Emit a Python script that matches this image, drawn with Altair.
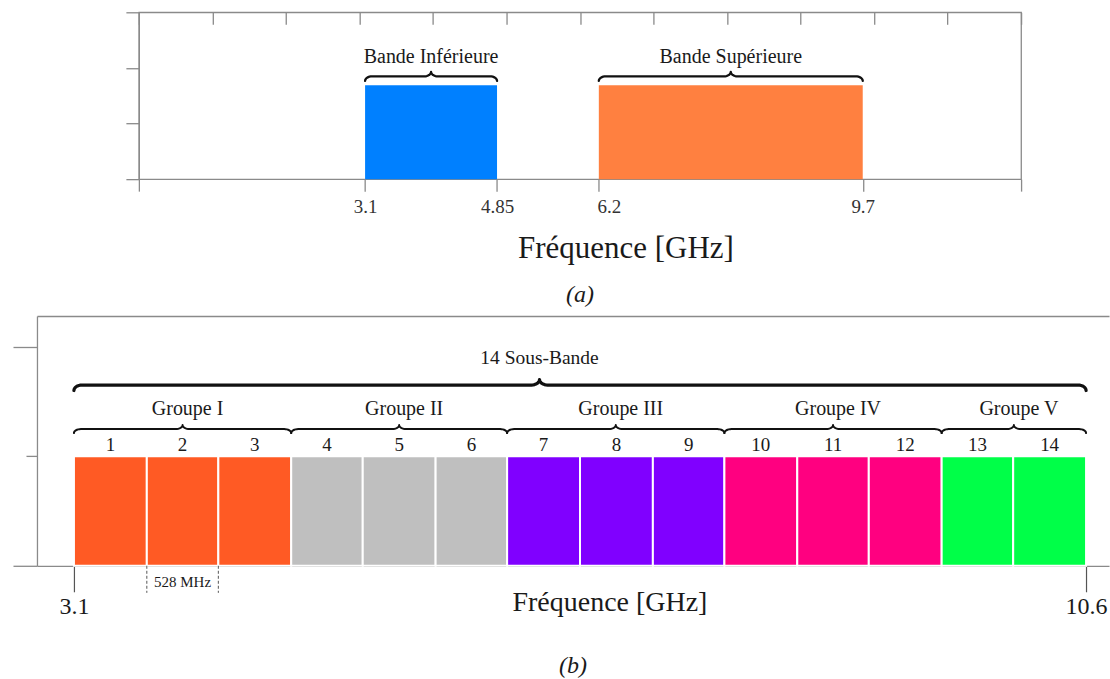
import altair as alt
import numpy as np
import pandas as pd

FONT = "Liberation Serif"
TXT = "#1a1a1a"
LINE = "#8a8a8a"
INK = "#111111"

# ---------------- panel (a) data ----------------
band_names = ["Bande Inférieure", "Bande Supérieure"]
band_start = [3.1, 6.2]
band_end = [4.85, 9.7]
band_colors = ["#0080FF", "#FF8040"]
band_level = 1.69
a_tick_values = [3.1, 4.85, 6.2, 9.7]

# ---------------- panel (b) data ----------------
sub_band_ids = [1, 2, 3, 4, 5, 6, 7, 8, 9, 10, 11, 12, 13, 14]
sub_band_edges = [3.10, 3.64, 4.17, 4.71, 5.24, 5.78, 6.31, 6.85, 7.39, 7.92, 8.46, 8.99, 9.53, 10.06, 10.60]
group_names = ["Groupe I", "Groupe II", "Groupe III", "Groupe IV", "Groupe V"]
group_first = [1, 4, 7, 10, 13]
group_last = [3, 6, 9, 12, 14]
group_colors = ["#FF5A24", "#BFBFBF", "#8000FF", "#FF0080", "#00FF48"]
all_label = "14 Sous-Bande"
all_peak = 6.55
b_tick_values = [3.1, 10.6]
width_label = "528 MHz"
width_band = 2


def brace_rows(bid, x0, x1, xm, y, kx, ky, dx_px, amp_px, n=9):
    dx = dx_px * kx
    a = amp_px * ky
    t = np.linspace(0, np.pi / 2, n)
    pts = []
    pts += list(zip(x0 + dx - dx * np.cos(t), y - a + a * np.sin(t)))
    pts += list(zip(xm - dx + dx * np.sin(t), y + a - a * np.cos(t)))
    pts += list(zip(xm + dx - dx * np.cos(t), y + a - a * np.sin(t)))
    pts += list(zip(x1 - dx + dx * np.sin(t), y - a + a * np.cos(t)))
    return [dict(brace=bid, order=i, x=float(px), y=float(py)) for i, (px, py) in enumerate(pts)]


# ================= panel (a) =================
A_W, A_H = 883, 167
a_dom = [0.1, 11.8]
a_ydom = [0, 3]
kx_a = (a_dom[1] - a_dom[0]) / A_W
ky_a = (a_ydom[1] - a_ydom[0]) / A_H
xa = alt.Scale(domain=a_dom, nice=False, zero=False)
ya = alt.Scale(domain=a_ydom, nice=False, zero=False)

bands_df = pd.DataFrame({
    "name": band_names,
    "start": band_start,
    "end": band_end,
    "mid": [(s + e) / 2 for s, e in zip(band_start, band_end)],
    "lo": [0.0] * len(band_names),
    "hi": [band_level] * len(band_names),
    "ty": [2.089] * len(band_names),
})

a_bars = alt.Chart(bands_df).mark_rect().encode(
    x=alt.X("start:Q", scale=xa, axis=alt.Axis(
        values=[a_dom[0]] + a_tick_values + [a_dom[1]], format=".2~f",
        labelExpr="(datum.value < 1 || datum.value > 11) ? '' : datum.label",
        tickSize=12, tickColor=LINE, tickWidth=1.3, labelPadding=6, labelFontSize=19,
        labelFont=FONT, labelColor="#333333", labelFlush=False, domain=False, grid=False,
        labelOffset={"condition": {"test": "datum.value == 6.2", "value": 10}, "value": 0},
        title="Fréquence [GHz]", titleFont=FONT, titleFontSize=31, titleFontWeight="normal",
        titleColor=TXT, titleX=487, titleY=78, titleBaseline="alphabetic", titleAlign="center")),
    x2="end:Q",
    y=alt.Y("lo:Q", scale=ya, axis=alt.Axis(values=[0, 1, 2, 3], tickSize=13, tickColor=LINE,
                                             tickWidth=1.3, labels=False, domain=True,
                                             domainColor=LINE, domainWidth=1.3, grid=False, title=None)),
    y2="hi:Q",
    color=alt.Color("name:N", scale=alt.Scale(domain=band_names, range=band_colors), legend=None),
)

a_brace_data = []
for i, (s, e) in enumerate(zip(band_start, band_end)):
    a_brace_data += brace_rows(i, s, e, (s + e) / 2, 1.848, kx_a, ky_a, 7, 4.5)

a_braces = alt.Chart(pd.DataFrame(a_brace_data)).mark_line(
    color=INK, strokeWidth=2.3, strokeCap="round", strokeJoin="round").encode(
    x=alt.X("x:Q", scale=xa, axis=alt.Axis(
        orient="top", values=[float(v) for v in np.linspace(a_dom[0], a_dom[1], 13)],
        offset=-12, tickSize=12, tickColor=LINE, tickWidth=1.3, labels=False,
        domain=False, grid=False, title=None)),
    y=alt.Y("y:Q", scale=ya, axis=None),
    detail="brace:N",
    order="order:Q",
)

a_text = alt.Chart(bands_df).mark_text(font=FONT, fontSize=20, color=TXT, baseline="alphabetic").encode(
    x=alt.X("mid:Q", scale=xa, axis=None),
    y=alt.Y("ty:Q", scale=ya, axis=None),
    text="name:N",
)

panel_a = alt.layer(a_bars, a_braces, a_text).resolve_axis(x="independent", y="independent").properties(
    width=A_W, height=A_H,
    view=alt.ViewBackground(stroke=LINE, strokeWidth=1.3),
    title=alt.TitleParams(text="(a)", orient="bottom", anchor="middle", font=FONT, fontSize=24,
                          fontStyle="italic", fontWeight="normal", color=TXT, offset=20),
)

# ================= panel (b) =================
B_W, B_H = 1073, 250
b_dom = [2.826, 10.77]
b_ydom = [0, 2.28]
kx_b = (b_dom[1] - b_dom[0]) / B_W
ky_b = (b_ydom[1] - b_ydom[0]) / B_H
xb = alt.Scale(domain=b_dom, nice=False, zero=False)
yb = alt.Scale(domain=b_ydom, nice=False, zero=False)

sub_group = []
for g, f, l in zip(group_names, group_first, group_last):
    sub_group += [g] * (l - f + 1)

subs_df = pd.DataFrame({
    "id": [str(i) for i in sub_band_ids],
    "start": sub_band_edges[:-1],
    "end": sub_band_edges[1:],
    "mid": [(a + b) / 2 for a, b in zip(sub_band_edges[:-1], sub_band_edges[1:])],
    "group": sub_group,
    "lo": [0.0] * len(sub_band_ids),
    "hi": [1.0] * len(sub_band_ids),
    "ty": [1.05] * len(sub_band_ids),
})

groups_df = pd.DataFrame({
    "name": group_names,
    "start": [sub_band_edges[f - 1] for f in group_first],
    "end": [sub_band_edges[l] for l in group_last],
})
groups_df["mid"] = (groups_df["start"] + groups_df["end"]) / 2
groups_df["ty"] = 1.376

b_bars = alt.Chart(subs_df).mark_rect(stroke="white", strokeWidth=2).encode(
    x=alt.X("start:Q", scale=xb, axis=alt.Axis(
        values=b_tick_values, format=".1f", tickSize=26, tickColor="#555555", tickWidth=1.2,
        labelPadding=3, labelFontSize=24, labelFont=FONT, labelColor=TXT, labelFlush=False,
        domain=True, domainColor=LINE, domainWidth=1.3, grid=False,
        title="Fréquence [GHz]", titleFont=FONT, titleFontSize=28, titleFontWeight="normal",
        titleColor=TXT, titleX=573, titleY=45, titleBaseline="alphabetic", titleAlign="center")),
    x2="end:Q",
    y=alt.Y("lo:Q", scale=yb, axis=alt.Axis(
        values=[0, 1, 2], tickSize={"condition": {"test": "datum.value == 1", "value": 11}, "value": 24},
        tickColor=LINE, tickWidth=1.3, labels=False, domain=True, domainColor=LINE,
        domainWidth=1.3, grid=False, title=None)),
    y2="hi:Q",
    color=alt.Color("group:N", scale=alt.Scale(domain=group_names, range=group_colors), legend=None),
)

g_brace_data = []
for i, (s, e, m) in enumerate(zip(groups_df["start"], groups_df["end"], groups_df["mid"])):
    g_brace_data += brace_rows(i, s, e, m, 1.248, kx_b, ky_b, 7, 4)

b_group_braces = alt.Chart(pd.DataFrame(g_brace_data)).mark_line(
    color=INK, strokeWidth=2.0, strokeCap="round", strokeJoin="round").encode(
    x=alt.X("x:Q", scale=xb, axis=alt.Axis(
        orient="top", ticks=False, labels=False, domain=True, domainColor=LINE,
        domainWidth=1.3, grid=False, title=None)),
    y=alt.Y("y:Q", scale=yb, axis=None),
    detail="brace:N",
    order="order:Q",
)

all_brace = alt.Chart(pd.DataFrame(
    brace_rows(0, sub_band_edges[0], sub_band_edges[-1], all_peak, 1.650, kx_b, ky_b, 8, 5.5))).mark_line(
    color=INK, strokeWidth=3.2, strokeCap="round", strokeJoin="round").encode(
    x=alt.X("x:Q", scale=xb, axis=None),
    y=alt.Y("y:Q", scale=yb, axis=None),
    detail="brace:N",
    order="order:Q",
)

b_numbers = alt.Chart(subs_df).mark_text(font=FONT, fontSize=19, color=TXT, baseline="alphabetic").encode(
    x=alt.X("mid:Q", scale=xb, axis=None),
    y=alt.Y("ty:Q", scale=yb, axis=None),
    text="id:N",
)

b_group_text = alt.Chart(groups_df).mark_text(font=FONT, fontSize=20, color=TXT, baseline="alphabetic", dx=5).encode(
    x=alt.X("mid:Q", scale=xb, axis=None),
    y=alt.Y("ty:Q", scale=yb, axis=None),
    text="name:N",
)

all_df = pd.DataFrame({"x": [all_peak], "y": [1.839], "t": [all_label]})
b_all_text = alt.Chart(all_df).mark_text(font=FONT, fontSize=19.5, color=TXT, baseline="alphabetic").encode(
    x=alt.X("x:Q", scale=xb, axis=None),
    y=alt.Y("y:Q", scale=yb, axis=None),
    text="t:N",
)

w_lo = sub_band_edges[width_band - 1]
w_hi = sub_band_edges[width_band]
dash_df = pd.DataFrame({"x": [w_lo, w_hi], "y": [0.0, 0.0], "y2": [-0.247, -0.247]})
b_dash = alt.Chart(dash_df).mark_rule(color="#555555", strokeWidth=1, strokeDash=[3, 2], clip=False).encode(
    x=alt.X("x:Q", scale=xb, axis=None),
    y=alt.Y("y:Q", scale=yb, axis=None),
    y2="y2:Q",
)
wl_df = pd.DataFrame({"x": [(w_lo + w_hi) / 2], "y": [-0.192], "t": [width_label]})
b_wlabel = alt.Chart(wl_df).mark_text(font=FONT, fontSize=15, color=TXT, baseline="alphabetic", clip=False).encode(
    x=alt.X("x:Q", scale=xb, axis=None),
    y=alt.Y("y:Q", scale=yb, axis=None),
    text="t:N",
)

panel_b = alt.layer(b_bars, b_group_braces, all_brace, b_numbers, b_group_text, b_all_text,
                    b_dash, b_wlabel).resolve_axis(x="independent", y="independent").properties(
    width=B_W, height=B_H,
    view=alt.ViewBackground(stroke="transparent"),
    title=alt.TitleParams(text="(b)", orient="bottom", anchor="middle", frame="group", font=FONT,
                          fontSize=24, fontStyle="italic", fontWeight="normal", color=TXT, offset=35),
)

spacer = alt.Chart(pd.DataFrame({"v": [0]})).mark_point(opacity=0).encode(
    x=alt.X("v:Q", axis=None), y=alt.Y("v:Q", axis=None)
).properties(width=86, height=20, view=alt.ViewBackground(stroke="transparent"))

top_row = alt.hconcat(spacer, panel_a, spacing=0).resolve_scale(color="independent")

chart = alt.vconcat(top_row, panel_b, spacing=7).resolve_scale(color="independent").properties(
    padding={"left": 11, "top": 10, "right": 0, "bottom": 0},
    background="white",
)

chart.save("out.html", embed_options={"renderer": "svg", "actions": False})
